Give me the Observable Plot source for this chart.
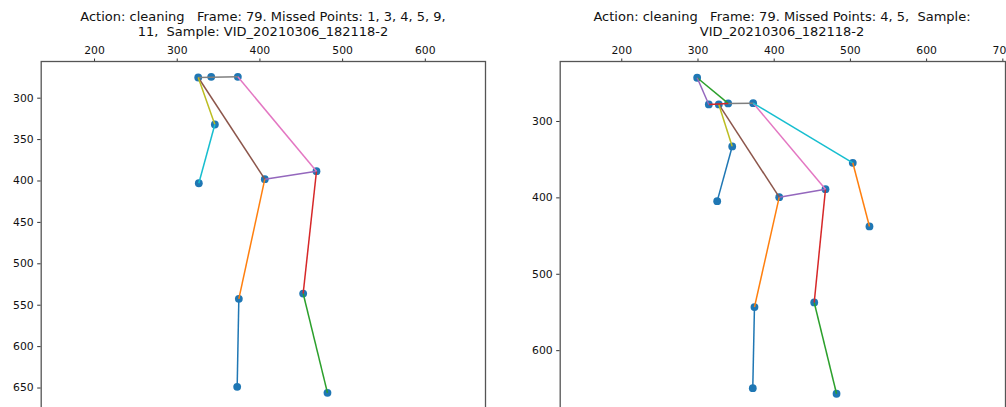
<!DOCTYPE html>
<html>
<head>
<meta charset="utf-8">
<script src="https://cdn.jsdelivr.net/npm/d3@7"></script>
<script src="https://cdn.jsdelivr.net/npm/@observablehq/plot@0.6"></script>
<style>
  html, body { margin: 0; padding: 0; background: #fff; overflow: hidden; width: 1006px; height: 407px; }
  #wrap { position: relative; width: 1006px; height: 407px; overflow: hidden; }
  .panel { position: absolute; top: 0; }
  .title { position: absolute; top: 9px; font-family: "DejaVu Sans", sans-serif; font-size: 13px; line-height: 15px;
           color: #111; text-align: center; white-space: pre; transform: translateX(-50%); }
</style>
</head>
<body>
<div id="wrap"></div>
<script>
// ---- data ----
const leftTitle = ["Action: cleaning   Frame: 79. Missed Points: 1, 3, 4, 5, 9,", "11,  Sample: VID_20210306_182118-2"];
const rightTitle = ["Action: cleaning   Frame: 79. Missed Points: 4, 5,  Sample:", "VID_20210306_182118-2"];

const leftX = [325.4, 341.1, 373.3, 345.5, 326.1, 405.9, 468.4, 374.5, 372.5, 452.3, 481.7];
const leftY = [275.0, 274.2, 274.2, 331.8, 402.7, 397.8, 388.2, 542.3, 648.6, 535.9, 655.8];
const leftSegments = [[8,7],[7,5],[10,9],[9,6],[5,6],[5,0],[6,2],[0,2],[0,3],[3,4]];

const rightX = [298.9, 314.2, 327.3, 339.6, 372.4, 344.9, 325.2, 503.1, 525.0, 406.6, 467.3, 374.1, 371.9, 452.5, 481.8];
const rightY = [242.8, 277.7, 277.7, 276.4, 276.0, 332.7, 404.3, 354.1, 437.4, 399.1, 388.6, 543.0, 649.1, 536.9, 656.4];
const rightSegments = [[12,11],[11,9],[14,13],[13,10],[9,10],[9,2],[10,4],[3,4],[2,5],[4,7],[5,6],[7,8],[0,3],[1,3],[0,1]];

const leftXTicks = [200, 300, 400, 500, 600];
const leftYTicks = [300, 350, 400, 450, 500, 550, 600, 650];
const rightXTicks = [200, 300, 400, 500, 600, 700];
const rightYTicks = [300, 400, 500, 600];

const leftXLim = [135.5, 672.8];
const leftYLim = [255.7, 701.3];
const rightXLim = [119.2, 703.5];
const rightYLim = [221.5, 704.5];

// ---- drawing ----
const cycle = ["#1f77b4","#ff7f0e","#2ca02c","#d62728","#9467bd","#8c564b","#e377c2","#7f7f7f","#bcbd22","#17becf"];

function panel({xs, ys, segs, xTicks, yTicks, xLim, yLim, marginLeft, marginRight}) {
  const pts = xs.map((x, i) => ({x, y: ys[i]}));
  const links = segs.map(([a, b], i) => ({x1: xs[a], y1: ys[a], x2: xs[b], y2: ys[b], c: cycle[i % cycle.length]}));
  return Plot.plot({
    width: 503, height: 430,
    marginTop: 61, marginBottom: 0, marginLeft, marginRight,
    style: {fontFamily: "DejaVu Sans", fontSize: "10.8px", color: "#111", background: "transparent", overflow: "visible"},
    x: {domain: xLim, axis: null},
    y: {domain: yLim, reverse: true, axis: null},
    color: {type: "identity"},
    marks: [
      Plot.dot(pts, {x: "x", y: "y", r: 3.9, fill: "#1f77b4", stroke: null}),
      Plot.link(links, {x1: "x1", y1: "y1", x2: "x2", y2: "y2", stroke: "c", strokeWidth: 1.5}),
      Plot.axisX({ticks: xTicks, anchor: "top", tickSize: 3.5, tickPadding: 4, stroke: "#333", fill: "#111", tickFormat: d => String(d)}),
      Plot.axisY({ticks: yTicks, anchor: "left", tickSize: 3.5, tickPadding: 4, stroke: "#333", fill: "#111", tickFormat: d => String(d)}),
      Plot.frame({stroke: "#555", strokeWidth: 1.3})
    ]
  });
}

const wrap = document.getElementById("wrap");

const p1 = panel({xs: leftX, ys: leftY, segs: leftSegments, xTicks: leftXTicks, yTicks: leftYTicks,
  xLim: leftXLim, yLim: leftYLim, marginLeft: 40.7, marginRight: 18});
p1.classList.add("panel"); p1.style.left = "0px";
wrap.appendChild(p1);

const p2 = panel({xs: rightX, ys: rightY, segs: rightSegments, xTicks: rightXTicks, yTicks: rightYTicks,
  xLim: rightXLim, yLim: rightYLim, marginLeft: 56.7, marginRight: 1});
p2.classList.add("panel"); p2.style.left = "503px";
wrap.appendChild(p2);

function addTitle(lines, cx) {
  const t = document.createElement("div");
  t.className = "title";
  t.style.left = cx + "px";
  t.textContent = lines.join("\n");
  wrap.appendChild(t);
}
addTitle(leftTitle, 263);
addTitle(rightTitle, 782);
</script>
</body>
</html>
